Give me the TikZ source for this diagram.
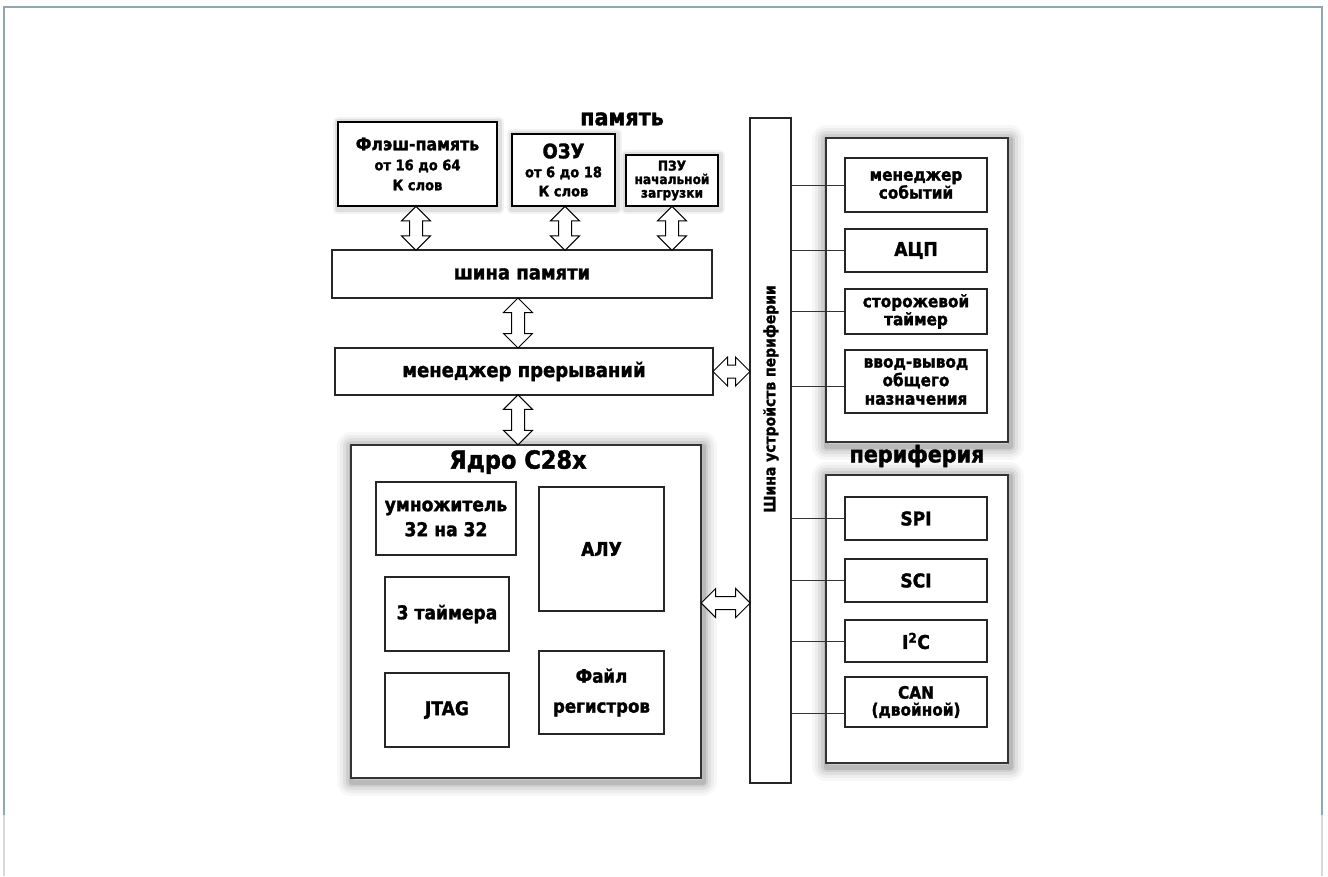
\documentclass[tikz,border=0pt]{standalone}
\usepackage{fontspec}
\newfontfamily\hv{DejaVu Sans}[FakeStretch=0.9, BoldFeatures={FakeBold=1.6}]
\usetikzlibrary{shapes.arrows,calc}
\pgfdeclarelayer{bg}
\pgfsetlayers{bg,main}
\newcommand{\myfs}[2]{\fontsize{#1}{#2}\selectfont}
\definecolor{framecol}{HTML}{8FA6B5}
\begin{document}
\begin{tikzpicture}[x=1pt,y=-1pt,
  every node/.style={font=\hv\bfseries},
  box/.style={draw=black!85, fill=white, line width=1.2pt, inner sep=0pt, align=center},
  membox/.style={box, draw=black, line width=2.4pt},
  grp/.style={draw=black!80, fill=white, line width=2pt, inner sep=0pt},
  dbl/.style={double arrow, draw=black, fill=white, line width=1pt, minimum width=28pt,
    double arrow head extend=8pt, double arrow tip angle=90, inner sep=6pt},
  link/.style={draw=black!80, line width=1pt},
  lbl/.style={inner sep=0pt, align=center}
]
\useasboundingbox (0,0) rectangle (1328,876);
% page frame
\draw[framecol, line width=1.5pt] (4,815) -- (4,7) -- (1322,7) -- (1322,815);
\draw[black!15, line width=1.5pt] (4,815) -- (4,876);
\draw[black!15, line width=1.5pt] (1322,815) -- (1322,876);

% memory
\node[lbl, font=\hv\bfseries\myfs{23}{24}] (memlbl) at (622,119) {память};
\node[membox, minimum width=159pt, minimum height=84pt, font=\hv\bfseries\myfs{14.5}{20}] (flash) at (417.5,164)
  {{\myfs{17.5}{20}Флэш-память}\\от 16 до 64\\К слов};
\node[membox, minimum width=103pt, minimum height=72pt, font=\hv\bfseries\myfs{14.5}{19}] (ram) at (563.5,170)
  {{\myfs{20}{24}ОЗУ}\\от 6 до 18\\К слов};
\node[membox, minimum width=92pt, minimum height=51pt, font=\hv\bfseries\myfs{13.5}{13.5}] (rom) at (672,180.5)
  {ПЗУ\\начальной\\загрузки};
\node[box, minimum width=380pt, minimum height=48pt, font=\hv\bfseries\myfs{20}{22}] (membus) at (522,274) {шина памяти};
\node[box, minimum width=378pt, minimum height=47pt, font=\hv\bfseries\myfs{20}{22}] (intmgr) at (524,371.5) {менеджер прерываний};

% core
\node[grp, minimum width=350pt, minimum height=333pt] (core) at (526,611.5) {};
\node[lbl, font=\hv\bfseries\myfs{25}{26}] (coretitle) at (518,462) {Ядро C28x};
\node[box, minimum width=140pt, minimum height=73pt, font=\hv\bfseries\myfs{19}{25}] (mult) at (446,518.5) {умножитель\\32 на 32};
\node[box, minimum width=125pt, minimum height=124pt, font=\hv\bfseries\myfs{19}{22}] (alu) at (601.5,549) {АЛУ};
\node[box, minimum width=124pt, minimum height=74pt, font=\hv\bfseries\myfs{19}{22}] (timers) at (447,614) {3 таймера};
\node[box, minimum width=125pt, minimum height=83pt, font=\hv\bfseries\myfs{18.5}{30}] (regs) at (601.5,692.5) {Файл\\регистров};
\node[box, minimum width=124pt, minimum height=74pt, font=\hv\bfseries\myfs{19}{22}] (jtag) at (447,710) {JTAG};

% peripheral bus
\node[box, minimum width=41pt, minimum height=665pt] (pbus) at (770.5,450.5) {};
\node[lbl, rotate=90, font=\hv\bfseries\myfs{15.5}{18}] (pbuslbl) at (771,399) {Шина устройств периферии};

% peripheral group 1
\node[grp, minimum width=182pt, minimum height=304pt] (pgrp1) at (917,290) {};
\node[box, minimum width=142pt, minimum height=54pt, font=\hv\bfseries\myfs{17}{16}] (evm) at (916,185) {менеджер\\событий};
\node[box, minimum width=142pt, minimum height=43pt, font=\hv\bfseries\myfs{19}{22}] (adc) at (916,250.5) {АЦП};
\node[box, minimum width=142pt, minimum height=45pt, font=\hv\bfseries\myfs{17}{18}] (wdt) at (916,311.5) {сторожевой\\таймер};
\node[box, minimum width=142pt, minimum height=63pt, font=\hv\bfseries\myfs{17}{18.5}] (gpio) at (916,381.5) {ввод-вывод\\общего\\назначения};

\node[lbl, font=\hv\bfseries\myfs{23}{24}] (perlbl) at (917,456) {периферия};

% peripheral group 2
\node[grp, minimum width=182pt, minimum height=288pt] (pgrp2) at (917,619) {};
\node[box, minimum width=142pt, minimum height=43pt, font=\hv\bfseries\myfs{19}{22}] (spi) at (916,518.5) {SPI};
\node[box, minimum width=142pt, minimum height=43pt, font=\hv\bfseries\myfs{19}{22}] (sci) at (916,580.5) {SCI};
\node[box, minimum width=142pt, minimum height=42pt, font=\hv\bfseries\myfs{19}{22}] (i2c) at (916,641) {I\textsuperscript{2}C};
\node[box, minimum width=142pt, minimum height=50pt, font=\hv\bfseries\myfs{17}{17}] (can) at (916,702) {CAN\\(двойной)};

% bus links
\draw[link] (evm.west) -- (evm.west -| pbus.east);
\draw[link] (adc.west) -- (adc.west -| pbus.east);
\draw[link] (wdt.west) -- (wdt.west -| pbus.east);
\draw[link] ($(gpio.west)+(0,5)$) -- ($(gpio.west -| pbus.east)+(0,5)$);
\draw[link] (spi.west) -- (spi.west -| pbus.east);
\draw[link] (sci.west) -- (sci.west -| pbus.east);
\draw[link] (i2c.west) -- (i2c.west -| pbus.east);
\draw[link] ($(can.west)+(0,11)$) -- ($(can.west -| pbus.east)+(0,11)$);

% double arrows
\node[dbl, rotate=90, minimum height=44pt] (a1) at ($(flash.south)!0.5!(flash.south |- membus.north)+(-1.5,0)$) {};
\node[dbl, rotate=90, minimum height=44pt] (a2) at ($(ram.south)!0.5!(ram.south |- membus.north)+(1.5,0)$) {};
\node[dbl, rotate=90, minimum height=44pt] (a3) at ($(rom.south)!0.5!(rom.south |- membus.north)$) {};
\node[dbl, rotate=90, minimum height=50pt] (a4) at ($(membus.south)!0.5!(intmgr.north)+(-5,0)$) {};
\node[dbl, rotate=90, minimum height=50pt] (a5) at ($(intmgr.south)!0.5!(core.north)+(-7,0)$) {};
\node[dbl, minimum height=37pt] (a6) at ($(intmgr.east)!0.5!(intmgr.east -| pbus.west)$) {};
\node[dbl, minimum height=49pt] (a7) at ($(core.east)!0.5!(core.east -| pbus.west)+(0,-8.5)$) {};

% soft shadows
\begin{pgfonlayer}{bg}
\foreach \n in {core,pgrp1,pgrp2}{
  \foreach \w/\o in {28/0.03,22/0.04,16/0.06,10/0.08,5/0.1}
    \draw[line width=\w pt, black, opacity=\o, line join=round] ($(\n.north west)+(1,2)$) rectangle ($(\n.south east)+(1,3)$);
}
\foreach \n in {flash,ram,rom}{
  \foreach \w/\o in {10/0.05,6/0.08}
    \draw[line width=\w pt, black, opacity=\o, line join=round] ($(\n.north west)+(1,1)$) rectangle ($(\n.south east)+(1,2)$);
}
\end{pgfonlayer}
\end{tikzpicture}
\end{document}
